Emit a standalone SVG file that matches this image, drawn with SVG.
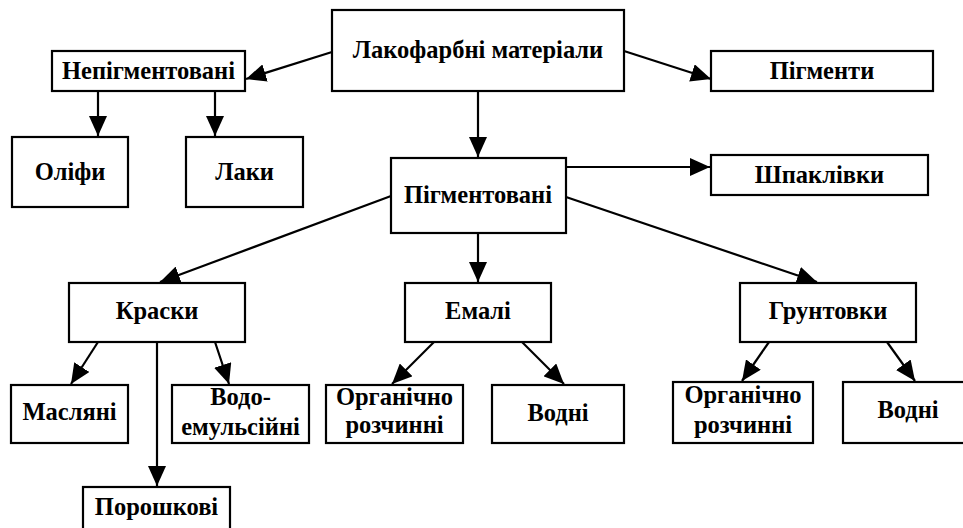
<svg xmlns="http://www.w3.org/2000/svg" width="963" height="528" viewBox="0 0 963 528">
<defs>
<style>
rect{fill:#fff;stroke:#000;stroke-width:2.2}
.c line{stroke:#000;stroke-width:2.2;marker-end:url(#ah)}
</style>
<marker id="ah" markerUnits="userSpaceOnUse" viewBox="0 0 20 18" markerWidth="20" markerHeight="18" refX="20" refY="9" orient="auto"><path d="M0,0 L20,9 L0,18 z" fill="#000"/></marker>
</defs>
<rect width="963" height="528" style="fill:#fff;stroke:none"/>
<g class="c">
<line x1="332" y1="52" x2="246" y2="79"/>
<line x1="624" y1="51" x2="711" y2="79"/>
<line x1="478" y1="91" x2="478" y2="157"/>
<line x1="98" y1="91" x2="98" y2="136"/>
<line x1="215" y1="91" x2="215" y2="136"/>
<line x1="566" y1="167" x2="710" y2="167"/>
<line x1="391" y1="196" x2="160" y2="282"/>
<line x1="566" y1="197" x2="817" y2="282"/>
<line x1="478" y1="233" x2="478" y2="282"/>
<line x1="98" y1="342" x2="71" y2="384"/>
<line x1="215" y1="342" x2="229" y2="384"/>
<line x1="157" y1="342" x2="157" y2="486"/>
<line x1="434" y1="342" x2="392" y2="384"/>
<line x1="522" y1="342" x2="564" y2="384"/>
<line x1="769" y1="342" x2="742" y2="381"/>
<line x1="887" y1="342" x2="915" y2="381"/>
</g>
<g font-family="'Liberation Serif', 'Times New Roman', serif" font-weight="bold" font-size="24.5" text-anchor="middle" fill="#000">
<g id="lakofarbni"><rect x="332" y="10" width="292" height="81"/><text x="478" y="58">Лакофарбні матеріали</text></g>
<g id="nepigmentovani"><rect x="52" y="51" width="193" height="40"/><text x="148.5" y="79">Непігментовані</text></g>
<g id="pigmenty"><rect x="711" y="51" width="222" height="40"/><text x="822" y="79">Пігменти</text></g>
<g id="olifi"><rect x="12" y="137" width="116" height="70"/><text x="70" y="180">Оліфи</text></g>
<g id="laky"><rect x="186" y="137" width="117" height="70"/><text x="244.5" y="180">Лаки</text></g>
<g id="pigmentovani"><rect x="391" y="158" width="175" height="75"/><text x="478" y="203">Пігментовані</text></g>
<g id="shpaklivky"><rect x="711" y="155" width="217" height="40"/><text x="819.5" y="183">Шпаклівки</text></g>
<g id="kraski"><rect x="69" y="283" width="176" height="59"/><text x="157" y="319">Краски</text></g>
<g id="emali"><rect x="405" y="283" width="146" height="59"/><text x="478" y="319">Емалі</text></g>
<g id="gruntovky"><rect x="740" y="283" width="176" height="59"/><text x="828" y="319">Грунтовки</text></g>
<g id="masliani"><rect x="11" y="385" width="117" height="58"/><text x="69.5" y="420">Масляні</text></g>
<g id="vodoemulsiini"><rect x="172" y="385" width="137" height="58"/><text x="240.5" y="405">Водо-</text><text x="240.5" y="435">емульсійні</text></g>
<g id="poroshkovi"><rect x="83" y="487" width="147" height="60"/><text x="156.5" y="515">Порошкові</text></g>
<g id="emali-organichno"><rect x="326" y="385" width="137" height="58"/><text x="394.5" y="405">Органічно</text><text x="394.5" y="433">розчинні</text></g>
<g id="emali-vodni"><rect x="492" y="385" width="132" height="58"/><text x="558" y="421">Водні</text></g>
<g id="grunt-organichno"><rect x="673" y="382" width="140" height="61"/><text x="743" y="403">Органічно</text><text x="743" y="433">розчинні</text></g>
<g id="grunt-vodni"><rect x="843" y="382" width="130" height="61"/><text x="908" y="418">Водні</text></g>
</g>
</svg>
